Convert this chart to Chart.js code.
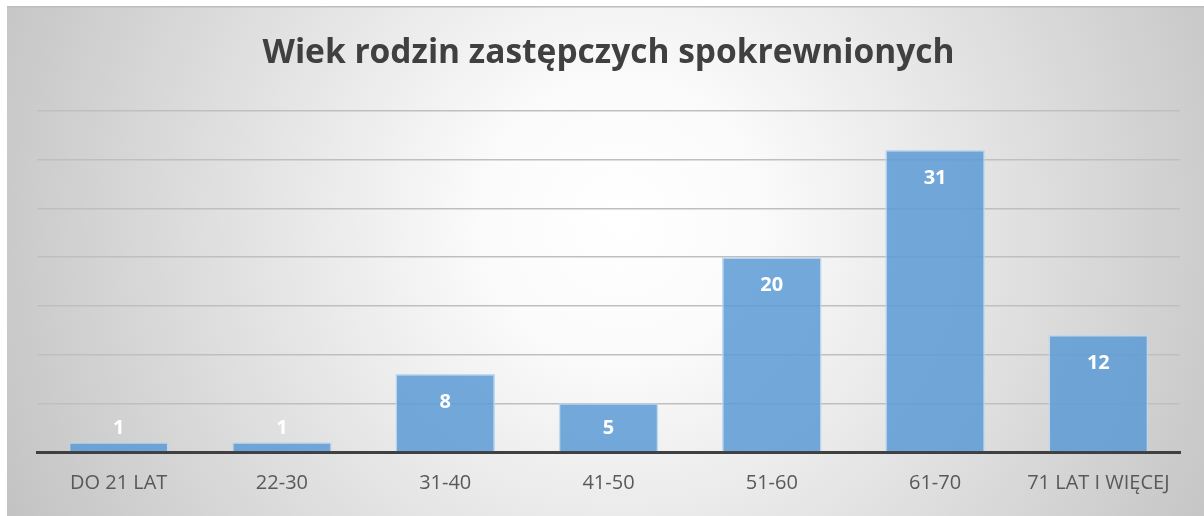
<!DOCTYPE html>
<html>
<head>
<meta charset="utf-8">
<script src="https://cdn.jsdelivr.net/npm/chart.js@4"></script>
<style>
  html, body { margin: 0; padding: 0; background: #fff; }
  #wrap { width: 1204px; height: 516px; }
</style>
</head>
<body>
<div id="wrap"><canvas id="chart" width="1204" height="516"></canvas></div>
<script>
  'use strict';

  var categories = ['DO 21 LAT', '22-30', '31-40', '41-50', '51-60', '61-70', '71 LAT I WIĘCEJ'];
  var counts = [1, 1, 8, 5, 20, 31, 12];
  var yTicks = [0, 5, 10, 15, 20, 25, 30, 35];
  var chartTitle = 'Wiek rodzin zastępczych spokrewnionych';

  // gray radial backdrop with a thin frame line on top
  var backdrop = {
    id: 'backdrop',
    beforeDraw: function(chart) {
      var ctx = chart.ctx;
      ctx.save();
      ctx.fillStyle = '#ffffff';
      ctx.fillRect(0, 0, chart.width, chart.height);
      var g = ctx.createRadialGradient(620, 220, 0, 620, 220, 680);
      g.addColorStop(0, '#ffffff');
      g.addColorStop(0.2, '#fbfbfb');
      g.addColorStop(1, '#c3c3c3');
      ctx.fillStyle = g;
      ctx.fillRect(7, 6, chart.width - 7, chart.height - 6);
      ctx.fillStyle = '#bdbdbd';
      ctx.fillRect(7, 6, chart.width - 7, 1.5);
      ctx.restore();
    }
  };

  // value labels: inside the top of the bar, pushed above when the bar is short
  var valueLabels = {
    id: 'valueLabels',
    afterDatasetsDraw: function(chart) {
      var ctx = chart.ctx;
      var meta = chart.getDatasetMeta(0);
      var base = chart.scales.y.getPixelForValue(0);
      ctx.save();
      ctx.fillStyle = '#ffffff';
      ctx.font = 'bold 20px "Open Sans"';
      ctx.textAlign = 'center';
      ctx.textBaseline = 'middle';
      meta.data.forEach(function(bar, i) {
        var y = Math.min(bar.y + 28, base - 24);
        ctx.fillText(String(counts[i]), bar.x, y);
      });
      ctx.restore();
    }
  };

  var ctx = document.getElementById('chart').getContext('2d');

  new Chart(ctx, {
    type: 'bar',
    data: {
      labels: categories,
      datasets: [{
        data: counts,
        backgroundColor: 'rgba(91,155,213,0.85)',
        borderColor: 'rgba(189,215,238,0.9)',
        borderWidth: 1.5,
        categoryPercentage: 1,
        barPercentage: 0.61
      }]
    },
    options: {
      responsive: false,
      animation: false,
      layout: {
        padding: { left: 37, right: 24, top: 0, bottom: 2 }
      },
      plugins: {
        legend: { display: false },
        tooltip: { enabled: false },
        title: {
          display: true,
          text: chartTitle,
          color: '#404040',
          font: { family: 'Open Sans', size: 33.5, weight: 'bold', lineHeight: 1.2 },
          padding: { top: 33, bottom: 37.8 }
        }
      },
      scales: {
        x: {
          grid: { display: false, drawTicks: false },
          border: { display: true, color: '#404040', width: 3 },
          ticks: {
            color: '#595959',
            font: { family: 'Open Sans', size: 20 },
            padding: 19,
            maxRotation: 0
          }
        },
        y: {
          min: yTicks[0],
          max: yTicks[yTicks.length - 1],
          afterBuildTicks: function(axis) {
            axis.ticks = yTicks.map(function(v) { return { value: v }; });
          },
          grid: { color: '#bfbfbf', lineWidth: 1.5, drawTicks: false },
          border: { display: false },
          ticks: { display: false }
        }
      }
    },
    plugins: [backdrop, valueLabels]
  });
</script>
</body>
</html>
